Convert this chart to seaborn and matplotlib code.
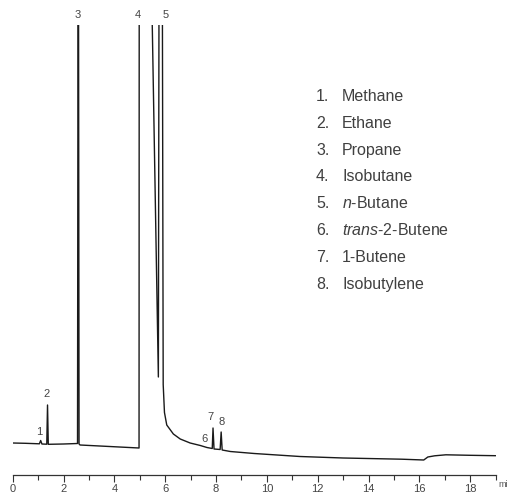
import numpy as np
import pandas as pd
import matplotlib
matplotlib.use("Agg")
import matplotlib.pyplot as plt
from matplotlib.ticker import MultipleLocator
import seaborn as sns

# --- DATA ---
# retention time (min) and detector signal (arbitrary units, 0 = axis line)
tempo = [0.00, 0.50, 1.05, 1.10, 1.15, 1.34, 1.37, 1.40, 2.00, 2.55, 2.58, 2.61,
         2.65, 4.97, 4.98, 5.48, 5.49, 5.73, 5.77, 5.85, 5.89, 5.92, 5.97, 6.06,
         6.32, 6.59, 6.98, 7.38, 7.64, 7.85, 7.88, 7.92, 8.16, 8.20, 8.24, 8.56,
         9.50, 11.30, 13.00, 15.30, 16.17, 16.33, 16.60, 17.04, 18.00, 19.00]
sinal = [31.5, 31.2, 30.7, 34.0, 30.5, 30.3, 69.5, 30.2, 30.5, 31.0, 700, 30.5,
         29.5, 26.5, 700, 700, 449.5, 97.5, 700, 700, 449.5, 90.0, 62.0, 49.5,
         40.5, 35.5, 31.5, 29.0, 27.0, 26.0, 46.5, 25.5, 25.0, 42.5, 24.5, 23.0,
         21.0, 18.0, 16.5, 15.3, 14.5, 17.5, 18.7, 19.7, 19.2, 18.8]

# peak number labels (time, signal)
pico_num = ["1", "2", "3", "4", "5", "6", "7", "8"]
pico_t = [1.03, 1.33, 2.56, 4.94, 6.02, 7.54, 7.78, 8.23]
pico_y = [43, 81, 459, 459, 459, 36, 58, 53]

compostos = ["Methane", "Ethane", "Propane", "Isobutane", "$\\mathit{n}$-Butane",
             "$\\mathit{trans}$-2-Butene", "1-Butene", "Isobutylene"]

df = pd.DataFrame({"tempo": tempo, "sinal": sinal})

# --- ESTILO ---
sns.set_theme(style="white")
plt.rcParams["font.family"] = ["Liberation Sans", "DejaVu Sans"]
plt.rcParams["mathtext.fontset"] = "custom"
plt.rcParams["mathtext.rm"] = "Liberation Sans"
plt.rcParams["mathtext.it"] = "Liberation Sans:italic"
estreita = ["Liberation Sans Narrow", "Liberation Sans", "DejaVu Sans"]

fig = plt.figure(figsize=(5.07, 4.94), dpi=100)
ax = fig.add_axes([12.7 / 507, 19.5 / 494, 483 / 507, 449.5 / 494])

sns.lineplot(data=df, x="tempo", y="sinal", ax=ax, sort=False, estimator=None,
             color="#1a1a1a", linewidth=1.0)

ax.set_xlim(0, 19)
ax.set_ylim(0, 449.5)
ax.set_xlabel("")
ax.set_ylabel("")
ax.set_yticks([])
for lado in ["left", "top", "right"]:
    ax.spines[lado].set_visible(False)
ax.spines["bottom"].set_color("#333333")
ax.spines["bottom"].set_linewidth(0.9)

ax.xaxis.set_major_locator(MultipleLocator(2))
ax.xaxis.set_minor_locator(MultipleLocator(1))
ax.tick_params(axis="x", which="major", direction="out", length=5, width=0.8,
               color="#333333", labelsize=8, labelcolor="#444444", pad=1.5,
               bottom=True)
ax.tick_params(axis="x", which="minor", direction="out", length=3.5, width=0.8,
               color="#333333", bottom=True)
for lbl in ax.get_xticklabels():
    lbl.set_family(estreita)

# "min" label, cut by the figure edge like the original
ax.text(19.12, -9.5, "min", fontsize=6.5, color="#555555", ha="left", va="center",
        family=estreita, clip_on=False)

# numbers above peaks
for n, t, y in zip(pico_num, pico_t, pico_y):
    ax.text(t, y, n, fontsize=8, color="#444444", ha="center", va="center",
            family=estreita)

# compound list
for i, nome in enumerate(compostos):
    yb = 1 - (101 + i * 26.8) / 494
    fig.text(316 / 507, yb, f"{i + 1}.", fontsize=11.5, color="#404040",
             ha="left", va="baseline")
    fig.text(342 / 507, yb, nome, fontsize=11.5, color="#404040",
             ha="left", va="baseline")

plt.savefig("out.png", dpi=100)
plt.close()
